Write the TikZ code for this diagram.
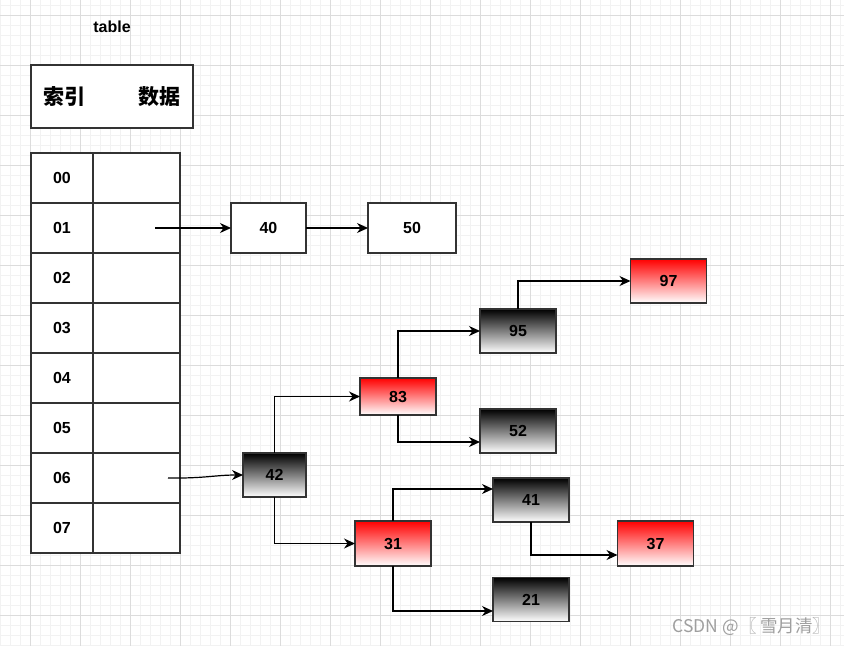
\documentclass[tikz,border=0pt]{standalone}
\usepackage{fontspec}
\setmainfont{Liberation Sans}
\newfontfamily\cjk{Noto Sans CJK SC}
\usetikzlibrary{arrows.meta}
\definecolor{gminor}{HTML}{F2F2F2}
\definecolor{gmajor}{HTML}{DCDCDC}
\definecolor{edgec}{HTML}{333333}
\definecolor{redn}{HTML}{FF0000}
\tikzset{
  lbl/.style={font=\bfseries\fontsize{16}{18}\selectfont},
  cell/.style={draw=edgec, line width=1.4pt, fill=white, inner sep=0pt, outer sep=0pt, lbl},
  blk/.style={draw=edgec, line width=1.4pt, inner sep=0pt, outer sep=0pt, top color=black, bottom color=white, lbl, minimum width=76pt, minimum height=44pt},
  rdn/.style={draw=edgec, line width=1.4pt, inner sep=0pt, outer sep=0pt, top color=redn, bottom color=white, lbl, minimum width=76pt, minimum height=44pt},
  conn/.style={draw=black, line width=1.2pt, -{Stealth[length=11pt,width=10pt]}},
}
\begin{document}
\begin{tikzpicture}[x=1pt,y=-1pt]
\useasboundingbox (0,0) rectangle (844,646);
\fill[white] (0,0) rectangle (844,646);
% grid
\foreach \x in {0,10,...,840} \draw[gminor, line width=0.5pt] (\x,0) -- (\x,646);
\foreach \y in {5,15,...,645} \draw[gminor, line width=0.5pt] (0,\y) -- (844,\y);
\foreach \x in {30,80,...,830} \draw[gmajor, line width=0.8pt] (\x,0) -- (\x,646);
\foreach \y in {15,65,...,615} \draw[gmajor, line width=0.8pt] (0,\y) -- (844,\y);
% title
\node[lbl] (title) at (112,27) {table};
% header
\node[cell, minimum width=162pt, minimum height=63pt] (hdr) at (112,96.5) {};
\node[font=\cjk\bfseries\fontsize{21}{24}\selectfont] (hidx) at (64,97) {索引};
\node[font=\cjk\bfseries\fontsize{21}{24}\selectfont] (hdat) at (159,97) {数据};
% table
\foreach \i in {0,...,7} {
  \node[cell, minimum width=62pt, minimum height=50pt] (k\i) at (62,178+50*\i) {0\i};
  \node[cell, minimum width=87pt, minimum height=50pt] (d\i) at (136.5,178+50*\i) {};
}
% list
\node[cell, minimum width=75pt, minimum height=50pt] (n40) at (268.5,228) {40};
\node[cell, minimum width=88pt, minimum height=50pt] (n50) at (412,228) {50};
\coordinate (s1) at (155,228);
\draw[conn] (s1) -- (n40.west);
\draw[conn] (n40.east) -- (n50.west);
% tree
\node[rdn] (n97) at (668.5,281) {97};
\node[blk] (n95) at (518,331) {95};
\node[rdn, minimum height=37pt] (n83) at (398,396.5) {83};
\node[blk] (n52) at (518,431) {52};
\node[blk, minimum width=63pt] (n42) at (274.5,475) {42};
\node[blk] (n41) at (531,500) {41};
\node[rdn, minimum height=45pt] (n31) at (393,543.5) {31};
\node[rdn, minimum height=45pt] (n37) at (655.5,543.5) {37};
\node[blk] (n21) at (531,599.5) {21};
\coordinate (s6) at (168,478);
\draw[conn] (s6) .. controls (205,478.5) and (215,475) .. (n42.west);
\draw[conn] (n42.north) |- (n83.west);
\draw[conn] (n42.south) |- (n31.west);
\draw[conn] (n83.north) |- (n95.west);
\draw[conn] (n83.south) |- (n52.west |- 0,442);
\draw[conn] (n95.north) |- (n97.west);
\draw[conn] (n31.north) |- (n41.west |- 0,489);
\draw[conn] (n31.south) |- (n21.west |- 0,611);
\draw[conn] (n41.south) |- (n37.west |- 0,555);
% watermark
\node[anchor=east, text=gray!75, font=\cjk\fontsize{17.5}{20}\selectfont] (wm) at (834,627) {CSDN @〖 雪月清〗};
\end{tikzpicture}
\end{document}
